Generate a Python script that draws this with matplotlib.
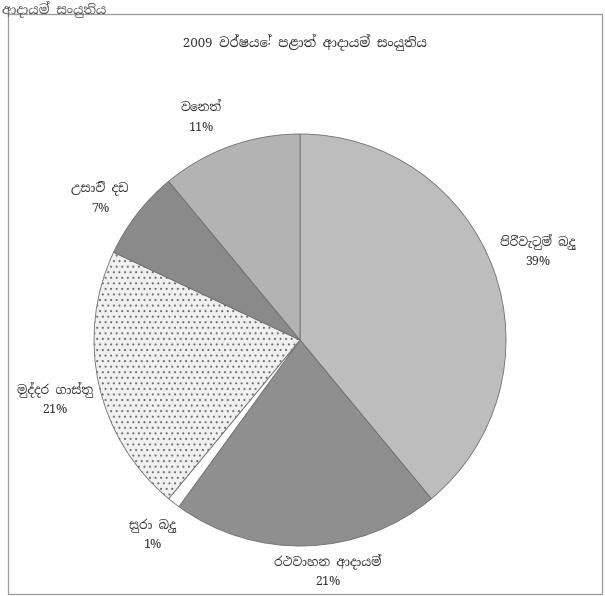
import matplotlib
matplotlib.use("Agg")
import matplotlib.pyplot as plt
from matplotlib.patches import Rectangle

# data (2009 provincial revenue composition)
title = "2009 වර්ෂයේ පළාත් ආදායම් සංයුතිය"
header = "ආදායම් සංයුතිය"
categories = ["පිරිවැටුම් බදු", "රථවාහන ආදායම්", "සුරා බදු",
              "මුද්දර ගාස්තු", "උසාවි දඩ", "වෙනත්"]
shares = [39, 21, 1, 21, 7, 11]

colors = ["#bdbdbd", "#8f8f8f", "#ffffff", "#f0f0f0", "#8a8a8a", "#b3b3b3"]
hatches = ["", "", "", "...", "", ""]
# label centres in pixels (x, y from top)
label_pos = [(538, 251), (328, 571), (152, 535), (55, 399), (100, 198), (201, 118)]

plt.rcParams["font.family"] = ["Noto Serif Sinhala", "Liberation Serif"]
plt.rcParams["hatch.color"] = "#c4c4c4"
plt.rcParams["hatch.linewidth"] = 0.7

W, H = 605, 596
fig = plt.figure(figsize=(W / 100, H / 100), dpi=100)

# frame of the chart area
frame = Rectangle((8 / W, 1 - 594 / H), 594 / W, 580 / H, transform=fig.transFigure,
                  fill=False, edgecolor="#9a9a9a", linewidth=0.9)
fig.patches.append(frame)

# pie
cx, cy, r = 300, 340, 206
ax = fig.add_axes([(cx - r) / W, 1 - (cy + r) / H, 2 * r / W, 2 * r / H])
wedges, _ = ax.pie(shares, colors=colors, startangle=90, counterclock=False,
                   radius=1.0, wedgeprops=dict(edgecolor="#6e6e6e", linewidth=0.6))
for w, h in zip(wedges, hatches):
    if h:
        w.set_hatch(h)
ax.set_xlim(-1.0, 1.0)
ax.set_ylim(-1.0, 1.0)
ax.axis("off")

# labels
for name, val, (lx, ly) in zip(categories, shares, label_pos):
    fig.text(lx / W, 1 - ly / H, name + "\n" + str(val) + "%", ha="center", va="center",
             fontsize=9, color="#333333", linespacing=1.55)

fig.text(305 / W, 1 - 43 / H, title, ha="center", va="center", fontsize=9.5, color="#333333")
fig.text(2 / W, 1 - 1 / H, header, ha="left", va="top", fontsize=9.5, color="#555555")

fig.savefig("out.png", dpi=100)
